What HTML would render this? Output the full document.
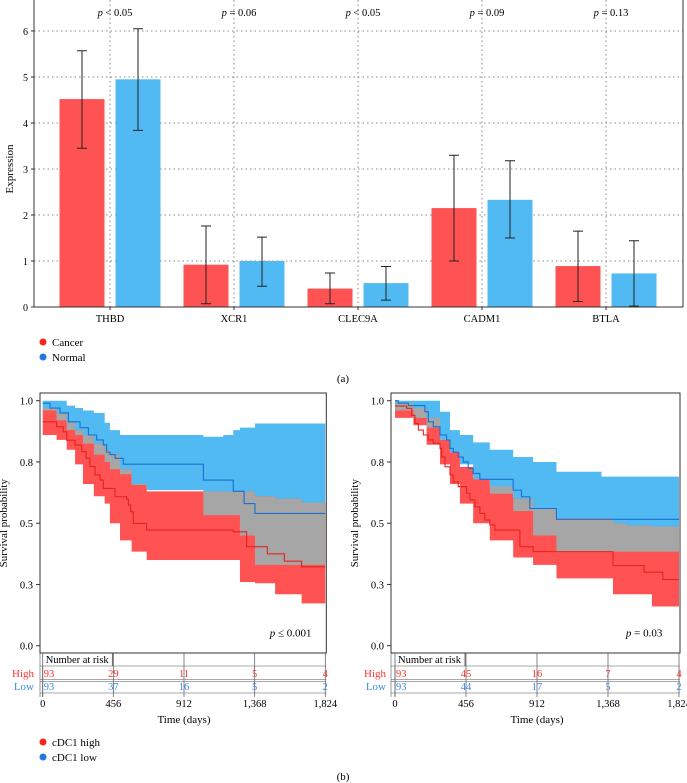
<!DOCTYPE html>
<html><head><meta charset="utf-8"><style>
html,body{margin:0;padding:0;background:#fff}
svg{display:block;font-family:"Liberation Serif",serif}
</style></head><body>
<svg id="fig" width="687" height="783" viewBox="0 0 687 783">
<g id="pa"></g>
<g id="pb1"></g>
<g id="pb2"></g>
<text x="343" y="382" font-size="11" text-anchor="middle">(a)</text>
<text x="343" y="780" font-size="11" text-anchor="middle">(b)</text>
<g>
<circle cx="43" cy="742" r="3.5" fill="#ff2020"/>
<text x="52" y="746" font-size="11">cDC1 high</text>
<circle cx="43" cy="757" r="3.5" fill="#1a7ae0"/>
<text x="52" y="761" font-size="11">cDC1 low</text>
</g>
<g>
<circle cx="43" cy="342" r="3.5" fill="#ff2020"/>
<text x="52" y="346" font-size="11">Cancer</text>
<circle cx="43" cy="357" r="3.5" fill="#1a7ae0"/>
<text x="52" y="361" font-size="11">Normal</text>
</g>
</svg>
<script>
// ---- Panel (a) data ----
const genes = ["THBD","XCR1","CLEC9A","CADM1","BTLA"];
const pvals = ["< 0.05","= 0.06","< 0.05","= 0.09","= 0.13"];
const cancerMean = [4.52,0.92,0.40,2.15,0.89];
const cancerLo = [3.45,0.07,0.07,1.00,0.12];
const cancerHi = [5.57,1.76,0.74,3.30,1.65];
const normalMean = [4.95,1.00,0.52,2.33,0.73];
const normalLo = [3.84,0.45,0.15,1.50,0.02];
const normalHi = [6.05,1.52,0.88,3.18,1.44];
const yTicksA = [0,1,2,3,4,5,6];

// ---- Panel (b) left data ----
const L_hiT = [0,90,133,155,209,252,280,305,338,370,391,467,542,553,568,585,671,1230,1273,1316,1450,1560,1671];
const L_hiS = [0.914,0.894,0.873,0.839,0.819,0.792,0.765,0.731,0.697,0.676,0.642,0.608,0.597,0.574,0.547,0.499,0.472,0.465,0.465,0.404,0.375,0.345,0.322];
const L_loT = [0,47,112,166,241,295,348,391,413,434,467,520,1037,1166,1230,1300,1370];
const L_loS = [0.99,0.97,0.95,0.914,0.89,0.86,0.84,0.82,0.79,0.78,0.765,0.741,0.676,0.676,0.63,0.58,0.54];
const L_gridT = [0,90,155,209,260,330,400,434,499,574,671,1037,1166,1230,1273,1370,1500,1671];
const L_hiUp = [0.97,0.95,0.91,0.88,0.86,0.825,0.80,0.78,0.72,0.66,0.63,0.63,0.63,0.63,0.63,0.61,0.60,0.584];
const L_hiLo = [0.86,0.84,0.80,0.74,0.66,0.61,0.58,0.50,0.43,0.384,0.35,0.35,0.35,0.35,0.26,0.255,0.21,0.173];
const L_loUp = [1.0,1.0,0.98,0.97,0.96,0.95,0.91,0.88,0.86,0.86,0.86,0.853,0.86,0.88,0.89,0.907,0.907,0.907];
const L_loLo = [0.96,0.92,0.88,0.86,0.825,0.78,0.75,0.72,0.70,0.656,0.635,0.533,0.533,0.533,0.45,0.33,0.33,0.33];
const L_riskHigh = [93,29,11,5,4];
const L_riskLow = [93,37,16,5,2];
const L_p = "≤ 0.001";

// ---- Panel (b) right data ----
const R_hiT = [0,75,107,128,150,182,214,246,289,299,321,353,374,406,460,481,513,545,577,609,641,802,887,1326,1400,1486,1600,1720];
const R_hiS = [0.978,0.969,0.94,0.907,0.88,0.86,0.84,0.826,0.805,0.77,0.73,0.697,0.669,0.649,0.622,0.595,0.567,0.54,0.513,0.493,0.472,0.404,0.384,0.384,0.327,0.327,0.30,0.27];
const R_loT = [0,21,86,192,214,246,289,331,353,374,406,438,470,502,545,738,759,812,866,994,1037];
const R_loS = [1.0,0.99,0.98,0.955,0.914,0.894,0.86,0.84,0.805,0.79,0.77,0.75,0.724,0.703,0.679,0.679,0.635,0.608,0.56,0.56,0.516];
const R_gridT = [0,118,203,289,353,417,502,609,759,887,1037,1326,1400,1486,1650];
const R_loUp = [1.0,1.0,1.0,0.955,0.88,0.86,0.83,0.80,0.77,0.75,0.71,0.69,0.69,0.69,0.69];
const R_loLo = [0.96,0.93,0.89,0.84,0.79,0.74,0.68,0.62,0.55,0.45,0.384,0.384,0.384,0.384,0.384];
const R_hiUp = [0.99,0.97,0.93,0.84,0.79,0.73,0.68,0.65,0.60,0.56,0.52,0.52,0.50,0.49,0.486];
const R_hiLo = [0.93,0.90,0.82,0.74,0.66,0.58,0.50,0.43,0.36,0.33,0.275,0.275,0.21,0.21,0.16];
const R_riskHigh = [93,45,16,7,4];
const R_riskLow = [93,44,17,5,2];
const R_p = "= 0.03";
const xTicksB = [0,456,912,1368,1824];
const xTickLabelsB = ["0","456","912","1,368","1,824"];
const yTicksB = [0,0.25,0.5,0.75,1.0];
const yTickLabelsB = ["0.0","0.3","0.5","0.8","1.0"];

const NS="http://www.w3.org/2000/svg";
function mk(parent,tag,attrs,text){const e=document.createElementNS(NS,tag);for(const k in attrs)e.setAttribute(k,attrs[k]);if(text!==undefined)e.textContent=text;parent.appendChild(e);return e;}

// ---- Panel (a) ----
(function(){
  const g=document.getElementById('pa');
  const L=34,R=683,T=0,B=307;
  const y=v=>B-v*46;
  const cx=i=>110+i*124;
  yTicksA.forEach(v=>{
    const ln=mk(g,'line',{x1:L,x2:R,y1:y(v),y2:y(v),stroke:'#888','stroke-dasharray':'1.5 3','stroke-width':1});
    
    
    const t=mk(g,'text',{x:L-6,y:y(v)+4,'font-size':10,'text-anchor':'end'},String(v));
    
    
    mk(g,'line',{x1:L-3,x2:L,y1:y(v),y2:y(v),stroke:'#333'});
  });
  genes.forEach((gn,i)=>{
    const vl=mk(g,'line',{x1:cx(i),x2:cx(i),y1:T,y2:B,stroke:'#888','stroke-dasharray':'1.5 3'});
    
    
    const bars=[[cancerMean,cancerLo,cancerHi,-28,'#ff5252','cancer'],[normalMean,normalLo,normalHi,28,'#52baf2','normal']];
    bars.forEach(([m,lo,hi,off,col,nm])=>{
      const bx=cx(i)+off;
      const r=mk(g,'rect',{x:bx-22.5,y:y(m[i]),width:45,height:y(0)-y(m[i]),fill:col});
      
      
      const eb=mk(g,'path',{d:`M${bx},${y(lo[i])}V${y(hi[i])}M${bx-5},${y(lo[i])}h10M${bx-5},${y(hi[i])}h10`,stroke:'#222','stroke-width':1,fill:'none'});
      
      
    });
    const xl=mk(g,'text',{x:cx(i),y:B+15,'font-size':10.5,'text-anchor':'middle'},gn);
    
    
    mk(g,'line',{x1:cx(i),x2:cx(i),y1:B,y2:B+3,stroke:'#333'});
    const pt=mk(g,'text',{x:cx(i)+5,y:16,'font-size':10.5,'text-anchor':'middle'});
    
    
    mk(pt,'tspan',{'font-style':'italic'},'p');
    mk(pt,'tspan',{},' '+pvals[i]);
  });
  const fr=mk(g,'rect',{x:L,y:T-1,width:R-L,height:B-T+1,fill:'none',stroke:'#333','stroke-width':1});
  
  
  const yt=mk(g,'text',{transform:`translate(13,${y(3)}) rotate(-90)`,'font-size':11,'text-anchor':'middle'},'Expression');
  
  
})();

// ---- Panel (b) ----
function survival(gid,fx,t0x,t1x,hiT,hiS,loT,loS,gT,hiUp,hiLo,loUp,loLo,rH,rL,pTxt,labelX){
  const g=document.getElementById(gid);
  const T=393,B=653;
  const x=t=>t0x+t*(t1x-t0x)/1824;
  const y=s=>645.7-s*245;
  const tEnd=1824;
  function stepPts(vals){
    const pts=[];
    gT.forEach((t,i)=>{const tn=i<gT.length-1?gT[i+1]:tEnd;pts.push([x(t),y(vals[i])]);pts.push([x(tn),y(vals[i])]);});
    return pts;
  }
  function bandPath(up,lo){
    const a=stepPts(up),b=stepPts(lo).reverse();
    return 'M'+a.concat(b).map(p=>p[0]+','+p[1]).join('L')+'Z';
  }
  function band(up,lo,col,nm){
    const p=mk(g,'path',{d:bandPath(up,lo),fill:col,stroke:'none'});
    
    
  }
  band(loUp,loLo,'#52baf2','ci-band-low');
  band(hiUp,hiLo,'#ff5252','ci-band-high');
  const gLo=gT.map((t,i)=>Math.max(hiLo[i],loLo[i]));
  const gUp=gT.map((t,i)=>Math.max(Math.min(hiUp[i],loUp[i]),gLo[i]));
  band(gUp,gLo,'#a6a6a6','ci-overlap');
  function step(ts,ss,col,nm){
    let d='M'+x(ts[0])+','+y(ss[0]);
    for(let i=1;i<ts.length;i++){d+='H'+x(ts[i])+'V'+y(ss[i]);}
    d+='H'+x(1824);
    const p=mk(g,'path',{d:d,fill:'none',stroke:col,'stroke-width':1.1});
    
    
  }
  step(hiT,hiS,'#e5221f','survival-curve-high');
  step(loT,loS,'#1a6fd0','survival-curve-low');
  const fr=mk(g,'rect',{x:fx,y:T,width:(t1x+1)-fx,height:B-T,fill:'none',stroke:'#333'});
  
  
  yTicksB.forEach((v,i)=>{
    mk(g,'line',{x1:fx-4,x2:fx,y1:y(v),y2:y(v),stroke:'#333'});
    const t=mk(g,'text',{x:fx-7,y:y(v)+4,'font-size':10.5,'text-anchor':'end'},yTickLabelsB[i]);
    
    
  });
  const yt=mk(g,'text',{transform:`translate(${fx-33},${y(0.5)}) rotate(-90)`,'font-size':11,'text-anchor':'middle'},'Survival probability');
  
  
  const pt=mk(g,'text',{x:x(1600),y:y(0.05)+3,'font-size':11,'text-anchor':'middle'});
  
  
  mk(pt,'tspan',{'font-style':'italic'},'p');
  mk(pt,'tspan',{},' '+pTxt);
  // risk table
  const tb=mk(g,'g',{});
  
  
  mk(tb,'path',{d:`M${fx},666H${t1x+1}M${fx},679.5H${t1x+1}M${fx},681.5H${t1x+1}M${fx},693H${t1x+1}M${fx},653V697`,stroke:'#555','stroke-width':0.6,fill:'none'});
  mk(tb,'line',{x1:x(0),x2:x(0),y1:666,y2:697,stroke:'#444','stroke-width':0.8});
  mk(tb,'line',{x1:x(456)-1,x2:x(456)-1,y1:653,y2:666,stroke:'#444','stroke-width':0.8});
  xTicksB.forEach((tv,i)=>{
    mk(tb,'line',{x1:x(tv),x2:x(tv),y1:653,y2:697,stroke:'#666','stroke-width':0.8});
    const anc=i===0?'start':'middle';
    const xx=i===0?x(tv)+1:x(tv);
    const a=mk(tb,'text',{x:xx,y:677,'font-size':10.5,fill:'#ff3030','text-anchor':anc},String(rH[i]));
    
    
    const b=mk(tb,'text',{x:xx,y:690,'font-size':10.5,fill:'#3a8ae8','text-anchor':anc},String(rL[i]));
    
    
    const tl=mk(g,'text',{x:x(tv),y:707,'font-size':10.5,'text-anchor':'middle'},xTickLabelsB[i]);
    
    
  });
  const nr=mk(tb,'text',{x:x(0)+3,y:663,'font-size':10.5},'Number at risk');
  
  
  const hl=mk(tb,'text',{x:labelX,y:677,'font-size':11,fill:'#ff3030','text-anchor':'end'},'High');
  
  
  const ll=mk(tb,'text',{x:labelX,y:690,'font-size':11,fill:'#3a8ae8','text-anchor':'end'},'Low');
  
  
  const xt=mk(g,'text',{x:(t0x+t1x)/2,y:723,'font-size':11,'text-anchor':'middle'},'Time (days)');
  
  
}
survival('pb1',40,42.7,325.3,L_hiT,L_hiS,L_loT,L_loS,L_gridT,L_hiUp,L_hiLo,L_loUp,L_loLo,L_riskHigh,L_riskLow,L_p,34);
survival('pb2',391,395,679,R_hiT,R_hiS,R_loT,R_loS,R_gridT,R_hiUp,R_hiLo,R_loUp,R_loLo,R_riskHigh,R_riskLow,R_p,386);
</script>
</body></html>
